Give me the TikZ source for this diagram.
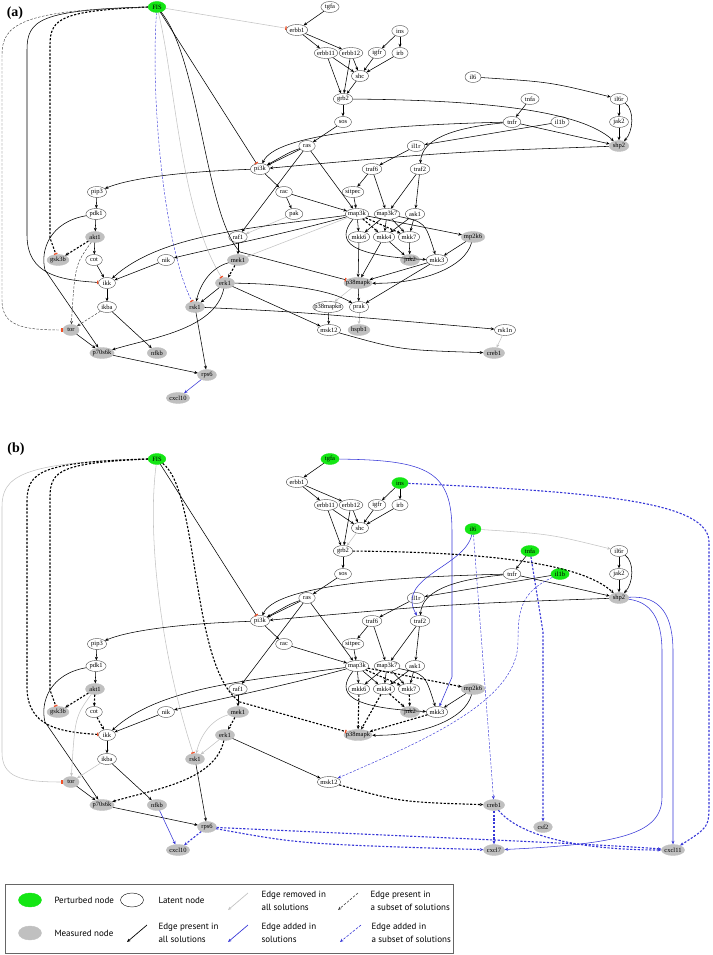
\documentclass[tikz,border=0pt]{standalone}
\usepackage{fontspec}
\usetikzlibrary{arrows.meta,shapes.geometric}
\newfontfamily\gfont{Liberation Serif}
\newfontfamily\lgfont{PT Sans}
\definecolor{pgreen}{RGB}{20,230,20}
\definecolor{mgrey}{RGB}{192,192,192}
\definecolor{rgrey}{RGB}{195,195,195}
\definecolor{eblue}{RGB}{55,55,215}
\definecolor{tred}{RGB}{240,80,40}
\begin{document}
\begin{tikzpicture}[x=1pt,y=-1pt,
    latent/.style={ellipse,draw=black!70,fill=white,line width=0.4pt,minimum width=16pt,minimum height=11pt,inner xsep=3.9pt,inner ysep=0.5pt,font=\gfont\fontsize{6.5}{6.5}\selectfont,
      execute at begin node={\setbox0=\hbox\bgroup},execute at end node={\egroup\hbox to 0.5\wd0{\hss\box0\hss}}},
    measured/.style={latent,draw=mgrey,fill=mgrey},
    perturbed/.style={latent,draw=pgreen,fill=pgreen},
    present/.style={draw=black,line width=0.55pt,-{Stealth[length=3.5pt,width=3pt]}},
    removed/.style={present,draw=rgrey},
    added/.style={present,draw=eblue},
    subset/.style={present,line width=1.1pt,dash pattern=on 2.2pt off 1.6pt},
    subsetthin/.style={present,draw=black!75,line width=0.45pt,dash pattern=on 2.5pt off 1.5pt},
    addsubset/.style={subset,draw=eblue},
    addsubthin/.style={subsetthin,draw=eblue},
    inhib/.style={-{Bar[width=3.5pt,line width=1.3pt,color=tred]}},
    legtext/.style={anchor=west,align=left,font=\lgfont\fontsize{9}{13}\selectfont}]
  \useasboundingbox (0,0) rectangle (712,955);
  \node[font=\gfont\bfseries\fontsize{14}{14}\selectfont] (labela) at (15,13) {(a)};
  \node[font=\gfont\bfseries\fontsize{14}{14}\selectfont] (labelb) at (16,449) {(b)};

  \node[perturbed] (aFIS) at (157,7) {FIS};
  \node[latent] (atgfa) at (330,7) {tgfa};
  \node[latent] (aerbb1) at (297,30) {erbb1};
  \node[latent] (ains) at (400,31) {ins};
  \node[latent] (aerbb11) at (326,53) {erbb11};
  \node[latent] (aerbb12) at (351,53) {erbb12};
  \node[latent] (aigfr) at (377,53) {igfr};
  \node[latent] (airb) at (400,53) {irb};
  \node[latent] (ashc) at (360,76) {shc};
  \node[latent] (ail6) at (473,77) {il6};
  \node[latent] (agrb2) at (343,99) {grb2};
  \node[latent] (atnfa) at (530,99) {tnfa};
  \node[latent] (ail6r) at (619,99) {il6r};
  \node[latent] (asos) at (343,122) {sos};
  \node[latent] (atnfr) at (512,122) {tnfr};
  \node[latent] (ail1b) at (560,122) {il1b};
  \node[latent] (ajak2) at (619,122) {jak2};
  \node[latent] (aras) at (307,146) {ras};
  \node[latent] (ail1r) at (416,146) {il1r};
  \node[measured] (ashp2) at (619,146) {shp2};
  \node[latent] (api3k) at (260,169) {pi3k};
  \node[latent] (atraf6) at (372,169) {traf6};
  \node[latent] (atraf2) at (420,169) {traf2};
  \node[latent] (apip3) at (97,192) {pip3};
  \node[latent] (arac) at (284,192) {rac};
  \node[latent] (asitpec) at (353,192) {sitpec};
  \node[latent] (apdk1) at (96,214) {pdk1};
  \node[latent] (apak) at (294,214) {pak};
  \node[latent] (amap3k) at (357,214) {map3k};
  \node[latent] (amap3k7) at (387,214) {map3k7};
  \node[latent] (aask1) at (415,214) {ask1};
  \node[measured] (aakt1) at (95,237) {akt1};
  \node[latent] (araf1) at (238,237) {raf1};
  \node[latent] (amkk6) at (359,237) {mkk6};
  \node[latent] (amkk4) at (384,237) {mkk4};
  \node[latent] (amkk7) at (409,237) {mkk7};
  \node[measured] (amp2k6) at (473,237) {mp2k6};
  \node[measured] (agsk3b) at (58,260) {gsk3b};
  \node[latent] (acot) at (94,260) {cot};
  \node[latent] (anik) at (166,260) {nik};
  \node[measured] (amek1) at (238,260) {mek1};
  \node[measured] (ajnk2) at (410,260) {jnk2};
  \node[latent] (amkk3) at (437,260) {mkk3};
  \node[latent] (aikk) at (107,283) {ikk};
  \node[measured] (aerk1) at (225,283) {erk1};
  \node[measured] (ap38mapk) at (358,283) {p38mapk};
  \node[latent] (aikba) at (107,307) {ikba};
  \node[measured] (arsk1) at (195,307) {rsk1};
  \node[latent] (ap38mapkn) at (328,307) {p38mapkn};
  \node[latent] (aprak) at (359,307) {prak};
  \node[measured] (ator) at (71,330) {tor};
  \node[latent] (amsk12) at (329,330) {msk12};
  \node[measured] (ahspb1) at (359,330) {hspb1};
  \node[latent] (arsk1n) at (505,330) {rsk1n};
  \node[measured] (ap70s6k) at (102,353) {p70s6k};
  \node[measured] (anfkb) at (157,353) {nfkb};
  \node[measured] (acreb1) at (494,353) {creb1};
  \node[measured] (arps6) at (207,375) {rps6};
  \node[measured] (acxcl10) at (178,398) {cxcl10};

  \draw[removed,inhib] (aFIS) -- (aerbb1);
  \draw[present,inhib] (aFIS) -- (api3k);
  \draw[present,inhib] (aFIS) .. controls (200,60) and (205,215) .. (240,252) -- (ap38mapk);
  \draw[removed,inhib] (aFIS) .. controls (175,80) and (180,210) .. (aerk1);
  \draw[addsubthin,inhib] (aFIS) .. controls (150,100) and (165,250) .. (arsk1);
  \draw[subset,inhib] (aFIS.west) .. controls (62,11) and (50,18) .. (50,45) -- (50,238) -- (agsk3b);
  \draw[present,inhib] (aFIS.west) .. controls (40,10) and (27,20) .. (27,50) -- (27,235) .. controls (27,275) and (60,280) .. (aikk);
  \draw[subsetthin,inhib] (aFIS.west) .. controls (20,10) and (2,25) .. (2,55) -- (2,300) .. controls (2,325) and (20,330) .. (ator);
  \draw[present] (atgfa) -- (aerbb1);
  \draw[present] (aerbb1) -- (aerbb11);
  \draw[present] (aerbb1) -- (aerbb12);
  \draw[present] (aerbb11) -- (ashc);
  \draw[present] (aerbb11) -- (agrb2);
  \draw[present] (aerbb12) -- (ashc);
  \draw[present] (aerbb12) -- (agrb2);
  \draw[present] (ains) -- (aigfr);
  \draw[present] (ains) -- (airb);
  \draw[present] (aigfr) -- (ashc);
  \draw[present] (airb) -- (ashc);
  \draw[present] (ashc) -- (agrb2);
  \draw[present] (agrb2) -- (asos);
  \draw[present] (agrb2) .. controls (480,100) and (580,110) .. (ashp2);
  \draw[present] (asos) -- (aras);
  \draw[present] (ail6) .. controls (550,82) .. (ail6r);
  \draw[present] (ail6r) -- (ajak2);
  \draw[present] (ajak2) -- (ashp2);
  \draw[present] (ail6r) .. controls (635,110) and (633,132) .. (ashp2);
  \draw[present] (atnfa) -- (atnfr);
  \draw[present] (atnfr) -- (ashp2);
  \draw[present] (atnfr) .. controls (380,125) and (275,135) .. (api3k);
  \draw[present] (atnfr) .. controls (450,128) and (422,140) .. (atraf2);
  \draw[present] (ail1b) -- (ail1r);
  \draw[present] (ail1r) -- (atraf6);
  \draw[present] (ashp2) .. controls (450,152) .. (api3k);
  \draw[present] (aras) -- (api3k);
  \draw[present] (aras) .. controls (290,152) .. (api3k);
  \draw[present] (aras) -- (araf1);
  \draw[present] (aras) -- (amap3k);
  \draw[present] (api3k) .. controls (170,172) and (125,180) .. (apip3);
  \draw[present] (api3k) -- (arac);
  \draw[present] (apip3) -- (apdk1);
  \draw[present] (apdk1) -- (aakt1);
  \draw[present] (apdk1) .. controls (50,222) and (40,250) .. (45,270) -- (ap70s6k);
  \draw[present] (arac) -- (apak);
  \draw[present] (arac) -- (amap3k);
  \draw[removed] (apak) -- (araf1);
  \draw[present] (atraf6) -- (asitpec);
  \draw[present] (atraf6) -- (amap3k7);
  \draw[present] (asitpec) -- (amap3k);
  \draw[present] (atraf2) -- (amap3k7);
  \draw[present] (atraf2) -- (aask1);
  \draw[present] (amap3k) -- (amkk6);
  \draw[subset] (amap3k) -- (amkk4);
  \draw[subset] (amap3k) -- (amkk7);
  \draw[present] (amap3k) -- (amp2k6);
  \draw[present] (amap3k) .. controls (335,242) and (350,256) .. (amkk3);
  \draw[present] (amap3k) .. controls (280,235) and (205,250) .. (anik);
  \draw[present] (amap3k) .. controls (250,228) and (160,235) .. (aikk);
  \draw[removed] (amap3k) -- (amek1);
  \draw[present] (amap3k7) -- (amkk6);
  \draw[present] (amap3k7) -- (amkk4);
  \draw[present] (amap3k7) -- (amkk7);
  \draw[present] (amap3k7) .. controls (425,222) .. (amkk3);
  \draw[present] (aask1) -- (amkk4);
  \draw[present] (aask1) -- (amkk7);
  \draw[present] (amkk6) -- (ap38mapk);
  \draw[present] (amkk4) -- (ap38mapk);
  \draw[present] (amkk4) -- (ajnk2);
  \draw[present] (amkk7) -- (ajnk2);
  \draw[present] (amkk3) -- (ap38mapk);
  \draw[present] (amkk3) -- (aprak);
  \draw[present] (amp2k6) -- (amkk3);
  \draw[present] (amp2k6) .. controls (465,268) and (420,284) .. (ap38mapk);
  \draw[present] (ap38mapk) -- (aprak);
  \draw[removed] (ap38mapk) -- (ap38mapkn);
  \draw[present] (ap38mapkn) -- (amsk12);
  \draw[removed] (aprak) -- (ahspb1);
  \draw[present] (araf1) -- (amek1);
  \draw[subset] (amek1) -- (aerk1);
  \draw[present] (amek1) .. controls (210,268) and (200,285) .. (arsk1);
  \draw[present] (aerk1) -- (arsk1);
  \draw[present] (aerk1) .. controls (290,284) and (330,290) .. (aprak);
  \draw[present] (aerk1) -- (amsk12);
  \draw[present] (aerk1) .. controls (215,330) and (150,338) .. (ap70s6k);
  \draw[present] (arsk1) .. controls (300,312) .. (arsk1n);
  \draw[present] (arsk1) -- (arps6);
  \draw[removed] (arsk1n) -- (acreb1);
  \draw[present] (amsk12) .. controls (400,350) .. (acreb1);
  \draw[subset] (aakt1) -- (agsk3b);
  \draw[present] (aakt1) -- (acot);
  \draw[subsetthin] (aakt1) .. controls (75,265) .. (ator);
  \draw[present] (acot) -- (aikk);
  \draw[present] (anik) -- (aikk);
  \draw[present] (aikk) -- (aikba);
  \draw[present] (aikba) -- (anfkb);
  \draw[subsetthin] (aikba) -- (ator);
  \draw[present] (ator) -- (ap70s6k);
  \draw[present] (ap70s6k) -- (arps6);
  \draw[added] (arps6) -- (acxcl10);

  \begin{scope}[shift={(0,452)}]
  \node[perturbed] (bFIS) at (157,7) {FIS};
  \node[perturbed] (btgfa) at (330,7) {tgfa};
  \node[latent] (berbb1) at (297,30) {erbb1};
  \node[perturbed] (bins) at (400,31) {ins};
  \node[latent] (berbb11) at (326,53) {erbb11};
  \node[latent] (berbb12) at (351,53) {erbb12};
  \node[latent] (bigfr) at (377,53) {igfr};
  \node[latent] (birb) at (400,53) {irb};
  \node[latent] (bshc) at (360,76) {shc};
  \node[perturbed] (bil6) at (473,77) {il6};
  \node[latent] (bgrb2) at (343,99) {grb2};
  \node[perturbed] (btnfa) at (530,99) {tnfa};
  \node[latent] (bil6r) at (619,99) {il6r};
  \node[latent] (bsos) at (343,122) {sos};
  \node[latent] (btnfr) at (512,122) {tnfr};
  \node[perturbed] (bil1b) at (560,122) {il1b};
  \node[latent] (bjak2) at (619,122) {jak2};
  \node[latent] (bras) at (307,146) {ras};
  \node[latent] (bil1r) at (416,146) {il1r};
  \node[measured] (bshp2) at (619,146) {shp2};
  \node[latent] (bpi3k) at (260,169) {pi3k};
  \node[latent] (btraf6) at (372,169) {traf6};
  \node[latent] (btraf2) at (420,169) {traf2};
  \node[latent] (bpip3) at (97,192) {pip3};
  \node[latent] (brac) at (284,192) {rac};
  \node[latent] (bsitpec) at (353,192) {sitpec};
  \node[latent] (bpdk1) at (96,214) {pdk1};
  \node[latent] (bmap3k) at (357,214) {map3k};
  \node[latent] (bmap3k7) at (387,214) {map3k7};
  \node[latent] (bask1) at (415,214) {ask1};
  \node[measured] (bakt1) at (95,237) {akt1};
  \node[latent] (braf1) at (238,237) {raf1};
  \node[latent] (bmkk6) at (359,237) {mkk6};
  \node[latent] (bmkk4) at (384,237) {mkk4};
  \node[latent] (bmkk7) at (409,237) {mkk7};
  \node[measured] (bmp2k6) at (473,237) {mp2k6};
  \node[measured] (bgsk3b) at (58,260) {gsk3b};
  \node[latent] (bcot) at (94,260) {cot};
  \node[latent] (bnik) at (166,260) {nik};
  \node[measured] (bmek1) at (238,260) {mek1};
  \node[measured] (bjnk2) at (410,260) {jnk2};
  \node[latent] (bmkk3) at (437,260) {mkk3};
  \node[latent] (bikk) at (107,283) {ikk};
  \node[measured] (berk1) at (225,283) {erk1};
  \node[measured] (bp38mapk) at (358,283) {p38mapk};
  \node[latent] (bikba) at (107,307) {ikba};
  \node[measured] (brsk1) at (195,307) {rsk1};
  \node[measured] (btor) at (71,330) {tor};
  \node[latent] (bmsk12) at (329,330) {msk12};
  \node[measured] (bp70s6k) at (102,353) {p70s6k};
  \node[measured] (bnfkb) at (157,353) {nfkb};
  \node[measured] (bcreb1) at (494,353) {creb1};
  \node[measured] (brps6) at (207,375) {rps6};
  \node[measured] (bcsf2) at (543,375) {csf2};
  \node[measured] (bcxcl10) at (178,398) {cxcl10};
  \node[measured] (bcxcl7) at (494,398) {cxcl7};
  \node[measured] (bcxcl11) at (673,398) {cxcl11};

  \draw[removed,inhib] (bFIS.west) .. controls (20,10) and (2,25) .. (2,55) -- (2,300) .. controls (2,325) and (20,330) .. (btor);
  \draw[subset,inhib] (bFIS.west) .. controls (40,10) and (27,20) .. (27,50) -- (27,235) .. controls (27,275) and (60,280) .. (bikk);
  \draw[subset,inhib] (bFIS.west) .. controls (62,11) and (50,18) .. (50,45) -- (50,238) -- (bgsk3b);
  \draw[removed,inhib] (bFIS) .. controls (147,80) and (160,200) .. (brsk1);
  \draw[present,inhib] (bFIS) -- (bpi3k);
  \draw[subset,inhib] (bFIS) .. controls (200,40) and (190,215) .. (240,250) -- (bp38mapk);
  \draw[present] (btgfa) -- (berbb1);
  \draw[added] (btgfa) .. controls (430,8) and (452,20) .. (452,80) -- (452,225) -- (bmkk3);
  \draw[addsubset] (bins) .. controls (600,40) and (709,50) .. (709,90) -- (709,350) .. controls (709,375) .. (bcxcl11);
  \draw[present] (berbb1) -- (berbb11);
  \draw[present] (berbb1) -- (berbb12);
  \draw[present] (berbb11) -- (bshc);
  \draw[present] (berbb11) -- (bgrb2);
  \draw[present] (berbb12) -- (bshc);
  \draw[present] (berbb12) -- (bgrb2);
  \draw[present] (bins) -- (bigfr);
  \draw[present] (bins) -- (birb);
  \draw[present] (bigfr) -- (bshc);
  \draw[present] (birb) -- (bshc);
  \draw[removed] (bshc) -- (bgrb2);
  \draw[present] (bgrb2) -- (bsos);
  \draw[subset] (bgrb2) .. controls (480,100) and (580,110) .. (bshp2);
  \draw[present] (bsos) -- (bras);
  \draw[removed] (bil6) .. controls (550,82) .. (bil6r);
  \draw[added] (bil6) .. controls (465,115) and (395,125) .. (btraf2);
  \draw[addsubthin] (bil6) -- (bcreb1);
  \draw[present] (bil6r) -- (bjak2);
  \draw[present] (bjak2) -- (bshp2);
  \draw[present] (bil6r) .. controls (635,110) and (633,132) .. (bshp2);
  \draw[present] (btnfa) -- (btnfr);
  \draw[addsubset] (btnfa) -- (543,180) -- (bcsf2);
  \draw[present] (btnfr) -- (bshp2);
  \draw[present] (btnfr) .. controls (380,125) and (275,135) .. (bpi3k);
  \draw[present] (btnfr) .. controls (450,128) and (422,140) .. (btraf2);
  \draw[present] (bil1b) -- (bil1r);
  \draw[addsubthin] (bil1b) .. controls (520,140) and (518,160) .. (518,190) .. controls (518,250) and (420,290) .. (bmsk12);
  \draw[present] (bil1r) -- (btraf6);
  \draw[present] (bshp2) .. controls (450,152) .. (bpi3k);
  \draw[added] (bshp2) .. controls (650,150) and (662,165) .. (662,200) -- (662,345) .. controls (662,382) and (620,392) .. (bcxcl7);
  \draw[added] (bshp2) .. controls (662,143) and (673,165) .. (673,200) -- (bcxcl11);
  \draw[present] (bras) -- (bpi3k);
  \draw[present] (bras) .. controls (290,152) .. (bpi3k);
  \draw[present] (bras) -- (braf1);
  \draw[present] (bras) -- (bmap3k);
  \draw[present] (bpi3k) .. controls (170,172) and (125,180) .. (bpip3);
  \draw[present] (bpi3k) -- (brac);
  \draw[present] (bpip3) -- (bpdk1);
  \draw[present] (bpdk1) -- (bakt1);
  \draw[present] (bpdk1) .. controls (50,222) and (40,250) .. (45,270) -- (bp70s6k);
  \draw[present] (brac) -- (bmap3k);
  \draw[present] (btraf6) -- (bsitpec);
  \draw[present] (btraf6) -- (bmap3k7);
  \draw[present] (bsitpec) -- (bmap3k);
  \draw[present] (btraf2) -- (bmap3k7);
  \draw[present] (btraf2) -- (bask1);
  \draw[present] (bmap3k) -- (bmkk6);
  \draw[present] (bmap3k) -- (bmkk4);
  \draw[subset] (bmap3k) -- (bmkk7);
  \draw[subset] (bmap3k) -- (bmp2k6);
  \draw[present] (bmap3k) .. controls (335,242) and (350,256) .. (bmkk3);
  \draw[present] (bmap3k) .. controls (280,235) and (205,250) .. (bnik);
  \draw[present] (bmap3k) .. controls (250,228) and (160,235) .. (bikk);
  \draw[present] (bmap3k7) -- (bmkk6);
  \draw[present] (bmap3k7) -- (bmkk4);
  \draw[present] (bmap3k7) -- (bmkk7);
  \draw[present] (bmap3k7) .. controls (425,222) .. (bmkk3);
  \draw[present] (bask1) -- (bmkk4);
  \draw[present] (bask1) -- (bmkk7);
  \draw[subset] (bmkk6) -- (bp38mapk);
  \draw[subset] (bmkk4) -- (bp38mapk);
  \draw[subset] (bmkk4) -- (bjnk2);
  \draw[subset] (bmkk7) -- (bjnk2);
  \draw[subset] (bmkk3) -- (bp38mapk);
  \draw[present] (bmp2k6) -- (bmkk3);
  \draw[present] (bmp2k6) .. controls (465,268) and (420,284) .. (bp38mapk);
  \draw[present] (braf1) -- (bmek1);
  \draw[subset] (bmek1) -- (berk1);
  \draw[removed] (bmek1) .. controls (210,268) and (200,285) .. (brsk1);
  \draw[removed] (berk1) -- (brsk1);
  \draw[present] (berk1) -- (bmsk12);
  \draw[subset] (berk1) .. controls (215,330) and (150,338) .. (bp70s6k);
  \draw[subset] (bmsk12) .. controls (400,350) .. (bcreb1);
  \draw[present] (brsk1) -- (brps6);
  \draw[subset] (bakt1) -- (bgsk3b);
  \draw[subset] (bakt1) -- (bcot);
  \draw[removed] (bakt1) .. controls (75,265) .. (btor);
  \draw[subset] (bcot) -- (bikk);
  \draw[present] (bnik) -- (bikk);
  \draw[present] (bikk) -- (bikba);
  \draw[present] (bikba) -- (bnfkb);
  \draw[removed] (bikba) -- (btor);
  \draw[present] (btor) -- (bp70s6k);
  \draw[present] (bp70s6k) -- (brps6);
  \draw[added] (bnfkb) -- (bcxcl10);
  \draw[addsubset] (brps6) -- (bcxcl10);
  \draw[addsubset] (brps6) .. controls (300,392) .. (bcxcl7);
  \draw[addsubset] (brps6) .. controls (400,384) and (600,392) .. (bcxcl11);
  \draw[addsubset] (bcreb1) -- (bcxcl7);
  \draw[addsubset] (bcreb1) .. controls (525,390) and (600,398) .. (bcxcl11);
  \end{scope}

  \draw[black!60,line width=0.6pt] (5,884) rectangle (453,953);
  \node[perturbed,minimum width=23pt,minimum height=14pt] (legpert) at (30,900) {};
  \node[measured,minimum width=23pt,minimum height=14pt] (legmeas) at (30,933) {};
  \node[latent,draw=black,minimum width=23pt,minimum height=14pt] (leglat) at (132,900) {};
  \node[legtext] (tpert) at (51,900) {Perturbed node};
  \node[legtext] (tmeas) at (51,933) {Measured node};
  \node[legtext] (tlat) at (155,900) {Latent node};
  \node[legtext] (tpres) at (155,933) {Edge present in\\all solutions};
  \node[legtext] (trem) at (258,901) {Edge removed in\\all solutions};
  \node[legtext] (tadd) at (258,933) {Edge added in\\solutions};
  \node[legtext] (tsub) at (367,901) {Edge present in\\a subset of solutions};
  \node[legtext] (taddsub) at (368,933) {Edge added in\\ a subset of solutions};
  \coordinate (kpres1) at (147,925);
  \coordinate (kpres2) at (127,942);
  \coordinate (krem1) at (248,893);
  \coordinate (krem2) at (228,910);
  \coordinate (kadd1) at (248,925);
  \coordinate (kadd2) at (228,942);
  \coordinate (ksub1) at (358,893);
  \coordinate (ksub2) at (338,910);
  \coordinate (kaddsub1) at (361,925);
  \coordinate (kaddsub2) at (340,942);
  \draw[present,line width=0.7pt] (kpres1) -- (kpres2);
  \draw[removed,line width=0.7pt] (krem1) -- (krem2);
  \draw[added,line width=0.7pt] (kadd1) -- (kadd2);
  \draw[subsetthin,line width=0.6pt] (ksub1) -- (ksub2);
  \draw[addsubthin,line width=0.6pt] (kaddsub1) -- (kaddsub2);
\end{tikzpicture}
\end{document}
